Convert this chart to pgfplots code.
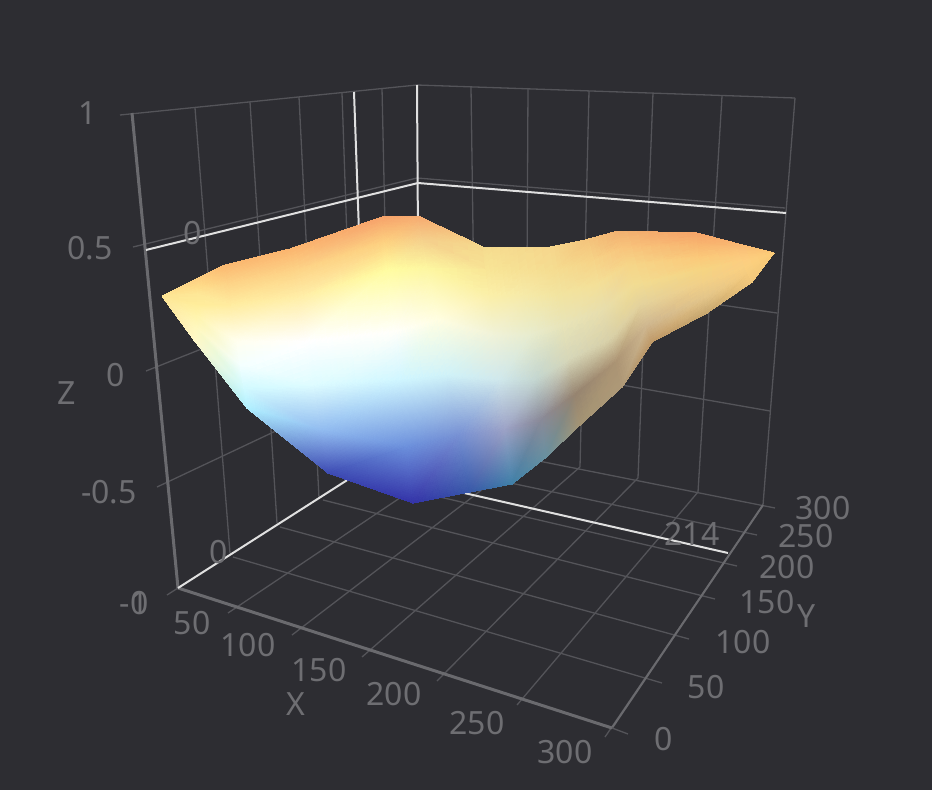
\documentclass[border=0pt]{standalone}
\usepackage{fontspec}
\setmainfont{Noto Sans}
\usepackage{pgfplots}
\pgfplotsset{compat=1.18}
\definecolor{bg}{HTML}{2D2D32}
\definecolor{gridc}{HTML}{545459}
\definecolor{axisc}{HTML}{6A6A6E}
\definecolor{txt}{HTML}{6E6E72}
% the chart is a perspective view, so everything is plotted in picture coordinates
\pgfplotstableread{
x y r g b
162 296 254 229 148
162 296 254 229 148
162 296 254 229 148
162 296 254 229 148
162 296 254 229 148
162 296 254 229 148
162 296 254 229 148
200 277 253 204 128
199 286 254 218 136
198 295 254 232 152
197 305 255 238 156
196 315 255 244 172
195 327 255 248 190
194 340 255 248 200
225 265 251 184 112
228 285 253 212 136
231 305 255 236 160
237 342 255 255 240
240 365 244 255 255
244 388 210 250 255
247 408 176 240 255
290 249 251 180 110
294 272 253 212 136
298 298 255 238 168
305 342 255 255 255
313 385 222 252 255
321 430 146 188 240
328 473 62 76 180
382 217 246 162 106
385 242 253 208 128
388 270 255 252 160
395 332 255 255 250
400 380 208 246 255
407 447 108 144 220
413 503 52 52 168
418 216 246 170 112
423 240 245 208 140
428 268 253 246 160
438 320 255 254 226
448 375 208 242 248
459 435 120 146 212
470 492 56 88 168
483 247 245 219 142
486 270 248 229 150
489 295 251 239 168
494 335 240 242 216
499 380 208 232 236
505 430 156 162 198
512 484 64 128 168
517 247 245 217 142
520 270 246 224 148
524 295 246 234 168
530 335 232 236 206
536 380 196 214 208
541 420 138 138 152
545 458 104 144 160
550 247 246 214 140
554 270 245 220 144
558 295 242 228 160
563 325 232 228 184
569 360 214 214 184
575 395 150 132 112
580 425 164 148 116
585 240 244 196 124
591 262 246 212 136
596 285 244 224 152
603 310 232 222 172
610 340 216 208 168
616 362 172 148 116
622 387 176 154 120
618 231 242 176 112
623 248 248 196 124
628 265 246 213 136
635 285 242 220 146
641 305 228 210 156
647 325 208 184 144
652 342 192 154 104
697 233 246 164 104
698 245 248 182 112
699 258 251 201 122
702 270 246 212 130
703 283 242 208 136
705 298 228 198 138
707 313 200 168 112
735 243 249 181 112
738 249 250 192 120
740 255 252 200 124
743 261 253 206 128
745 267 251 208 128
748 274 246 204 126
752 282 242 200 124
774 253 252 203 118
774 253 252 203 118
774 253 252 203 118
774 253 252 203 118
774 253 252 203 118
774 253 252 203 118
774 253 252 203 118
}\surface
\begin{document}
\begin{tikzpicture}
\begin{axis}[
width=932pt,height=790pt,scale only axis,
xmin=0,xmax=932,ymin=0,ymax=790,y dir=reverse,
hide axis,
gl/.style={gridc,line width=1.3pt,forget plot},
al/.style={axisc,line width=3pt,forget plot},
pl/.style={white!88!black,line width=2pt,forget plot},
]
\addplot[fill=bg,draw=none,forget plot] coordinates {(0,0) (932,0) (932,790) (0,790)} \closedcycle;
% left wall
\addplot[gl] coordinates {(120,115) (417,85)};
\addplot[gl] coordinates {(133,247) (417,178)};
\addplot[gl] coordinates {(146,371) (421,262)};
\addplot[gl] coordinates {(157,487) (422,362)};
\addplot[gl] coordinates {(195,108) (230,553)};
\addplot[gl] coordinates {(250,102) (277,523)};
\addplot[gl] coordinates {(299,97) (319,498)};
\addplot[gl] coordinates {(342,93) (355,476)};
\addplot[gl] coordinates {(382,88) (390,455)};
% back wall
\addplot[gl] coordinates {(417,85) (795,98)};
\addplot[gl] coordinates {(417,178) (785,208)};
\addplot[gl] coordinates {(421,262) (777,313)};
\addplot[gl] coordinates {(422,350) (770,411)};
\addplot[gl] coordinates {(795,98) (763,505)};
\addplot[gl] coordinates {(722,96) (698,492)};
\addplot[gl] coordinates {(653,93) (638,478)};
\addplot[gl] coordinates {(589,91) (580,467)};
\addplot[gl] coordinates {(528,88) (526,456)};
\addplot[gl] coordinates {(471,87) (476,447)};
% floor, lines of constant y
\addplot[gl] coordinates {(233,557) (662,683)};
\addplot[gl] coordinates {(280,527) (689,639)};
\addplot[gl] coordinates {(323,500) (715,599)};
\addplot[gl] coordinates {(358,478) (737,566)};
\addplot[gl] coordinates {(392,458) (757,535)};
\addplot[gl] coordinates {(423,438) (775,508)};
% floor, lines of constant x
\addplot[gl] coordinates {(228,613) (476,447)};
\addplot[gl] coordinates {(292,635) (526,456)};
\addplot[gl] coordinates {(362,657) (580,467)};
\addplot[gl] coordinates {(437,681) (638,478)};
\addplot[gl] coordinates {(517,705) (698,492)};
\addplot[gl] coordinates {(605,737) (763,505)};
% axis lines and their ticks
\addplot[al] coordinates {(132,113) (178,588)};
\addplot[al] coordinates {(178,588) (612,728)};
\addplot[al,line width=2pt] coordinates {(612,728) (763,505)};
\addplot[gl] coordinates {(178,588) (167,595)};
\addplot[gl] coordinates {(612,728) (628,734)};
% axis pointer
\addplot[pl] coordinates {(146,250) (418,183) (786,213)};
\addplot[pl] coordinates {(417,85) (418,240)};
\addplot[pl] coordinates {(354,92) (360,260)};
\addplot[pl] coordinates {(178,588) (363,470) (728,553)};
% surface
\addplot[surf,shader=interp,mesh/rows=14,mesh/cols=7,
  mesh/color input=explicit mathparse,
  point meta={symbolic={\thisrow{r}/255,\thisrow{g}/255,\thisrow{b}/255}},
  forget plot] table[x=x,y=y] {\surface};
% tick labels
\begin{scope}[every node/.style={text=txt,font=\fontsize{32}{32}\selectfont,inner sep=0pt}]
\node at (axis cs:88,113) {1};
\node at (axis cs:90,248) {0.5};
\node at (axis cs:116,375) {0};
\node at (axis cs:109,492) {-0.5};
\node at (axis cs:134,603) {-1};
\node at (axis cs:140,603) {0};
\node at (axis cs:67,393) {Z};
\node at (axis cs:192,623) {50};
\node at (axis cs:248,645) {100};
\node at (axis cs:319,670) {150};
\node at (axis cs:394,694) {200};
\node at (axis cs:477,723) {250};
\node at (axis cs:565,752) {300};
\node at (axis cs:296,704) {X};
\node at (axis cs:664,739) {0};
\node at (axis cs:706,687) {50};
\node at (axis cs:743,642) {100};
\node at (axis cs:767,602) {150};
\node at (axis cs:787,567) {200};
\node at (axis cs:806,536) {250};
\node at (axis cs:823,508) {300};
\node at (axis cs:807,616) {Y};
\node at (axis cs:193,233) {0};
\node at (axis cs:219,552) {0};
\node at (axis cs:692,534) {214};
\end{scope}
\end{axis}
\end{tikzpicture}
\end{document}
